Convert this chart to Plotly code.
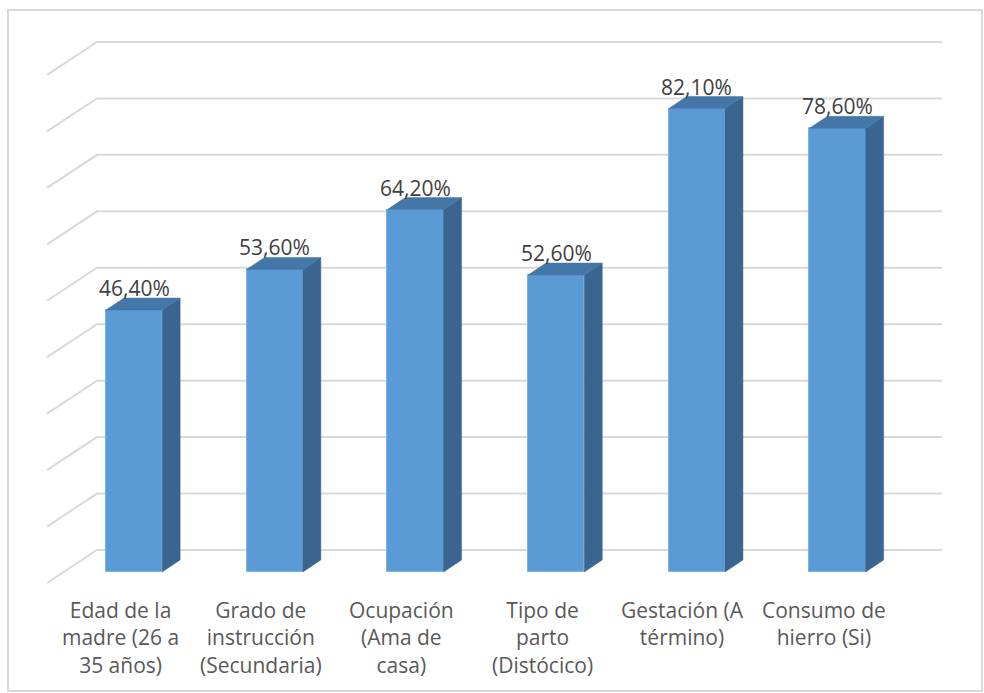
import plotly.graph_objects as go

# ---- data ----
categories = [
    "Edad de la<br>madre (26 a<br>35 años)",
    "Grado de<br>instrucción<br>(Secundaria)",
    "Ocupación<br>(Ama de<br>casa)",
    "Tipo de<br>parto<br>(Distócico)",
    "Gestación (A<br>término)",
    "Consumo de<br>hierro (Si)",
]
values = [46.4, 53.6, 64.2, 52.6, 82.1, 78.6]
grid_values = [0, 10, 20, 30, 40, 50, 60, 70, 80, 90]

# ---- layout constants (pixels) ----
W, H = 984, 693
X0_PX, X_STEP = 134.0, 140.7      # pixel of first bar centre, px per category
Y0_PX, Y_SCALE = 572.0, 5.645     # pixel of value 0 (front plane), px per unit
BAR_W = 0.4
DEPTH_PX = (18.0, -12.0)          # bar depth offset
WALL_PX = (33.0, -22.0)           # back wall offset from bar front plane
FLOOR_PX = (-17.0, 11.0)          # front edge of floor from bar front plane
WALL_LEFT_PX, WALL_RIGHT_PX = 97.0, 942.0

front = "#5B9BD5"
top_c = "#4477A7"
side_c = "#3A6590"
grid_c = "#D9D9D9"
text_c = "#595959"

def px_to_x(p):
    return (p - X0_PX) / X_STEP

def dpx_x(d):
    return d / X_STEP

def dpx_y(d):
    return -d / Y_SCALE

xr = [px_to_x(0), px_to_x(W)]
yr = [-(H - Y0_PX) / Y_SCALE, Y0_PX / Y_SCALE]

fig = go.Figure()

shapes = []
# back wall gridlines + left wall diagonals (below traces)
wall_dy = dpx_y(WALL_PX[1])
floor_dy = dpx_y(FLOOR_PX[1])
xl = px_to_x(WALL_LEFT_PX)
xrt = px_to_x(WALL_RIGHT_PX)
xd = px_to_x(WALL_LEFT_PX - WALL_PX[0] + FLOOR_PX[0])
for g in grid_values:
    shapes.append(dict(type="path", xref="x", yref="y", layer="below",
                       path=f"M{xd},{g + floor_dy} L{xl},{g + wall_dy} L{xrt},{g + wall_dy}",
                       line=dict(color=grid_c, width=2)))

xs = list(range(len(values)))
ddx = dpx_x(DEPTH_PX[0])
ddy = dpx_y(DEPTH_PX[1])

# front faces
fig.add_trace(go.Bar(x=xs, y=values, width=BAR_W, marker=dict(
    color=front, line=dict(color="#7FB2E0", width=1)), showlegend=False))

# side faces & top faces
for i, v in zip(xs, values):
    r = i + BAR_W / 2
    l = i - BAR_W / 2
    fig.add_trace(go.Scatter(
        x=[r, r, r + ddx, r + ddx, r], y=[0, v, v + ddy, ddy, 0],
        fill="toself", fillcolor=side_c, mode="lines",
        line=dict(color=side_c, width=0.5), hoverinfo="skip", showlegend=False))
    fig.add_trace(go.Scatter(
        x=[l, r, r + ddx, l + ddx, l], y=[v, v, v + ddy, v + ddy, v],
        fill="toself", fillcolor=top_c, mode="lines",
        line=dict(color=top_c, width=0.5), hoverinfo="skip", showlegend=False))

annotations = []
label_dy = dpx_y(-22)
for i, v in zip(xs, values):
    annotations.append(dict(
        x=i, y=v + label_dy, xref="x", yref="y",
        text=f"{v:.2f}".replace(".", ",") + "%", showarrow=False,
        xanchor="center", yanchor="middle",
        font=dict(family="Open Sans", size=21, color="#404040")))

lab_dx = dpx_x(-14)
lab_y = -(594 - Y0_PX) / Y_SCALE
for i, c in zip(xs, categories):
    annotations.append(dict(
        x=i + lab_dx, y=lab_y, xref="x", yref="y", text=c, showarrow=False,
        xanchor="center", yanchor="top", align="center",
        font=dict(family="Open Sans", size=21, color=text_c)))

shapes.append(dict(type="rect", xref="paper", yref="paper",
                   x0=8 / W, x1=982 / W, y0=1 - 691 / H, y1=1 - 10 / H,
                   line=dict(color="#D9D9D9", width=2)))

fig.update_layout(
    width=W, height=H,
    margin=dict(l=0, r=0, t=0, b=0),
    paper_bgcolor="white", plot_bgcolor="white",
    xaxis=dict(range=xr, visible=False, fixedrange=True),
    yaxis=dict(range=yr, visible=False, fixedrange=True),
    annotations=annotations,
    shapes=shapes,
    bargap=0,
)

fig.write_html("out.html")
